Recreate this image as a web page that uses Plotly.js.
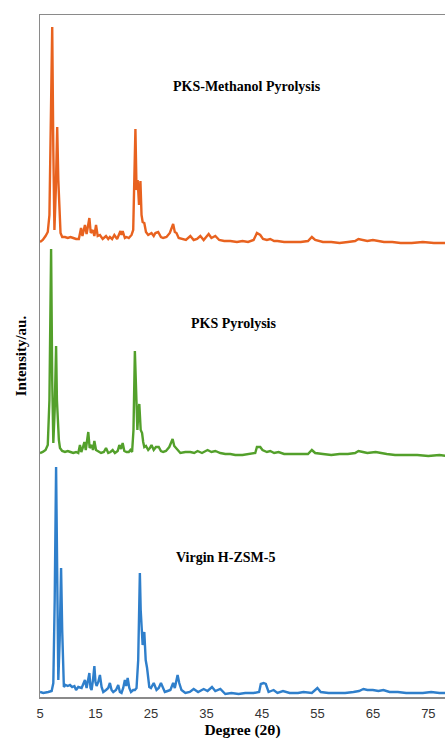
<!DOCTYPE html>
<html>
<head>
<meta charset="utf-8">
<script src="https://cdn.plot.ly/plotly-3.0.1.min.js"></script>
<style>html,body{margin:0;padding:0;background:#fff;}#chart{width:445px;height:741px;}</style>
</head>
<body>
<div id="chart"></div>
<script>
// Virgin H-ZSM-5 (blue)
const virginX = [5.0,5.6,6.5,7.1,7.4,7.65,7.9,8.1,8.3,8.55,8.8,9.0,9.1,9.3,9.6,10.0,10.4,10.8,11.2,11.5,11.9,12.5,12.8,13.1,13.4,13.6,13.9,14.1,14.3,14.55,14.8,15.0,15.2,15.5,15.8,16.1,16.4,16.9,17.3,17.6,17.9,18.2,18.7,19.1,19.4,19.7,20.0,20.3,20.55,20.8,21.1,21.4,21.8,22.1,22.4,22.7,23.0,23.15,23.3,23.5,23.8,24.05,24.3,24.5,24.7,25.0,25.5,26.0,26.4,26.8,27.2,27.5,28.0,28.5,29.0,29.3,29.8,30.1,30.5,31.2,32.0,32.7,33.5,34.5,35.2,36.0,36.6,37.5,38.4,39.5,40.8,42.0,43.5,44.5,44.8,45.3,45.7,46.2,47.1,47.8,48.8,50.0,51.5,52.5,54.0,55.0,55.6,57.0,58.5,60.0,61.5,62.5,63.3,64.0,65.0,66.0,66.9,68.0,69.5,71.0,72.5,74.0,75.5,77.0,78.5];
const virginY = [5,4,5,6,14,97,230,97,17,57,129,67,44,10,12,11,12,10,11,7,10,9,13,17,9,15,24,9,7,17,31,15,11,15,22,10,5,7,9,14,7,5,7,12,5,4,9,17,11,19,9,5,7,7,9,37,124,87,75,52,65,37,29,17,10,9,14,7,9,14,8,5,6,7,14,9,22,14,7,4,5,8,5,8,6,10,6,8,3,4,3,4,4,5,13,14,13,5,7,4,6,4,4,5,4,9,5,4,4,4,5,6,8,7,7,6,7,5,5,4,4,4,5,4,4];

// PKS Pyrolysis (green)
const pksX = [5.0,5.5,6.0,6.4,6.7,7.0,7.2,7.4,7.65,7.9,8.05,8.2,8.4,8.6,9.0,9.5,10.0,10.5,11.0,11.5,11.9,12.2,12.45,12.7,13.0,13.25,13.7,13.95,14.3,14.55,14.8,15.1,15.5,16.0,16.5,16.9,17.3,17.7,18.1,18.5,19.0,19.3,19.6,19.9,20.2,20.6,21.0,21.3,21.6,21.85,22.1,22.3,22.55,22.75,22.9,23.15,23.4,23.6,23.8,24.1,24.5,24.8,25.1,25.5,25.9,26.4,26.8,27.2,27.7,28.3,28.9,29.2,29.5,30.3,31.2,32.1,32.8,33.4,34.2,35.2,35.9,36.6,37.5,38.4,39.3,40.2,41.5,43.0,43.8,44.1,44.7,45.1,45.9,46.5,47.2,48.0,49.0,50.5,52.0,53.3,54.0,54.6,56.0,57.5,59.0,60.5,61.8,62.4,63.2,64.0,65.5,66.3,67.5,69.0,71.0,73.0,75.0,77.0,78.5];
const pksY = [4,5,7,12,57,208,77,14,47,111,57,37,17,9,6,5,6,5,4,5,4,12,5,9,15,7,25,9,12,7,16,7,6,4,5,9,4,5,7,4,6,12,8,14,6,5,5,7,5,27,106,64,27,47,53,27,24,15,10,11,7,9,12,7,10,10,6,5,6,10,18,11,9,4,5,5,4,6,4,7,5,6,4,3,3,2,2,3,4,10,10,7,5,6,4,5,3,3,3,3,7,4,3,2,3,3,4,6,5,4,5,4,3,2,2,2,1,2,1];

// PKS-Methanol Pyrolysis (orange)
const methX = [5.0,5.5,6.0,6.4,6.7,6.95,7.2,7.4,7.6,7.85,8.1,8.3,8.45,8.7,9.0,9.5,10.0,10.5,11.0,11.5,12.0,12.4,12.65,13.1,13.4,13.9,14.15,14.5,14.8,15.1,15.4,15.8,16.3,16.9,17.3,17.6,18.0,18.4,18.9,19.5,19.7,19.9,20.3,20.6,21.0,21.5,21.8,22.0,22.2,22.4,22.6,22.85,23.1,23.3,23.5,23.8,24.1,24.5,25.1,25.5,25.8,26.3,26.8,27.2,27.8,28.4,29.0,29.3,29.6,30.0,30.5,31.3,32.1,32.7,33.3,33.9,34.5,35.4,35.9,36.6,37.3,38.2,39.3,40.5,41.5,42.5,43.5,44.1,44.7,45.2,45.9,46.5,47.2,47.8,49.0,50.5,52.0,53.3,54.0,54.6,56.0,57.5,59.0,60.5,61.8,62.4,63.2,64.0,65.0,66.0,67.0,68.5,70.0,72.0,74.0,76.0,78.5];
const methY = [3,5,9,13,30,115,218,95,15,55,118,65,42,12,8,8,7,8,7,6,6,17,9,20,11,27,12,15,9,20,9,10,6,9,6,8,6,10,6,14,10,14,7,8,7,10,15,65,116,55,65,40,64,30,23,22,13,10,12,9,12,13,8,7,8,12,21,13,12,7,6,5,9,5,6,9,5,11,7,9,5,4,4,3,4,3,5,12,10,6,5,6,4,4,3,3,3,4,8,5,3,3,2,3,4,6,5,4,5,4,3,3,2,2,3,2,2];

const seriesNames = ["Virgin H-ZSM-5", "PKS Pyrolysis", "PKS-Methanol Pyrolysis"];
const stackOffsets = [0, 240, 452];
const lineColors = ["#2f7fcb", "#53a02b", "#e8621f"];
const xTicks = [5, 15, 25, 35, 45, 55, 65, 75];

const xs = [virginX, pksX, methX];
const ys = [virginY, pksY, methY];

const traces = xs.map((x, i) => ({
  type: "scatter",
  mode: "lines",
  name: seriesNames[i],
  x: x,
  y: ys[i].map(v => v + stackOffsets[i]),
  line: {color: lineColors[i], width: 2.4},
  hoverinfo: "x+y"
}));

const labelFont = {family: "Liberation Serif, Times New Roman, serif", size: 14, color: "#000"};
const annotations = [
  {text: "<b>" + seriesNames[2] + "</b>", x: 42.3, y: 611, xref: "x", yref: "y", showarrow: false, font: labelFont},
  {text: "<b>" + seriesNames[1] + "</b>", x: 39.9, y: 374, xref: "x", yref: "y", showarrow: false, font: labelFont},
  {text: "<b>" + seriesNames[0] + "</b>", x: 38.4, y: 140, xref: "x", yref: "y", showarrow: false, font: labelFont}
];

const layout = {
  width: 445, height: 741,
  margin: {l: 40, r: 0, t: 15, b: 44},
  paper_bgcolor: "#fff", plot_bgcolor: "#fff",
  showlegend: false,
  xaxis: {
    range: [5, 78],
    tickvals: xTicks,
    ticktext: xTicks.map(String),
    ticks: "",
    ticklabelstandoff: 4,
    tickfont: {family: "Liberation Sans, Arial, sans-serif", size: 13, color: "#333"},
    showgrid: false, zeroline: false,
    showline: true, linecolor: "#8a8a8a", linewidth: 1.5, mirror: true,
    title: {text: "<b>Degree (2θ)</b>", font: {family: "Liberation Serif, Times New Roman, serif", size: 15.5, color: "#000"}, standoff: 4}
  },
  yaxis: {
    range: [0, 682],
    showticklabels: false, ticks: "",
    showgrid: false, zeroline: false,
    showline: true, linecolor: "#8a8a8a", linewidth: 1.5,
    title: {text: "<b>Intensity/au.</b>", font: {family: "Liberation Serif, Times New Roman, serif", size: 15, color: "#000"}, standoff: 8}
  },
  annotations: annotations
};

Plotly.newPlot("chart", traces, layout, {displayModeBar: false, staticPlot: true});
</script>
</body>
</html>
